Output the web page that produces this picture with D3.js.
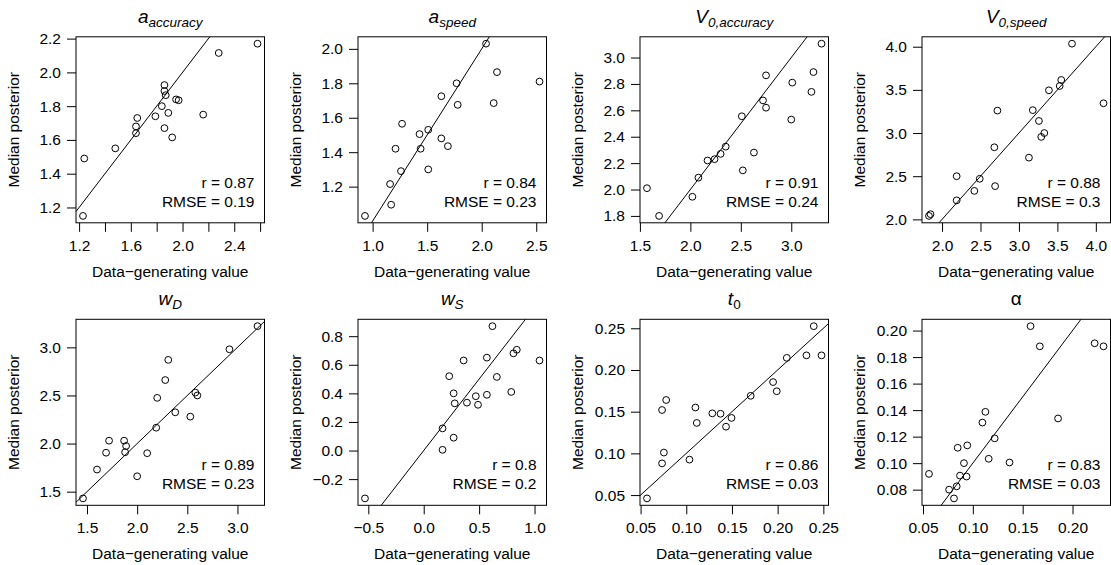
<!DOCTYPE html>
<html>
<head>
<meta charset="utf-8">
<script src="https://cdn.jsdelivr.net/npm/d3@7"></script>
<style>
  body { margin: 0; background: #fff; }
  text { font-family: "Liberation Sans", Arial, Helvetica, sans-serif; }
</style>
</head>
<body>
<div id="chart"></div>
<script>
// parameter recovery: data-generating value vs median posterior, one panel per parameter

var aAccTrue = [1.23, 1.24, 1.48, 1.64, 1.64, 1.65, 1.79, 1.84, 1.86, 1.86, 1.86, 1.87, 1.89, 1.92, 1.95, 1.97, 2.16, 2.28, 2.58];
var aAccPost = [1.15, 1.49, 1.55, 1.64, 1.68, 1.73, 1.74, 1.80, 1.67, 1.925, 1.89, 1.865, 1.76, 1.615, 1.84, 1.835, 1.75, 2.115, 2.17];

var aSpdTrue = [0.93, 1.16, 1.17, 1.21, 1.26, 1.27, 1.43, 1.44, 1.51, 1.51, 1.63, 1.63, 1.69, 1.77, 1.78, 2.04, 2.11, 2.14, 2.53];
var aSpdPost = [1.03, 1.215, 1.095, 1.42, 1.29, 1.565, 1.505, 1.42, 1.53, 1.30, 1.725, 1.48, 1.435, 1.80, 1.675, 2.03, 1.685, 1.865, 1.81];

var v0AccTrue = [1.57, 1.69, 2.02, 2.08, 2.17, 2.24, 2.30, 2.35, 2.51, 2.52, 2.63, 2.72, 2.75, 2.75, 3.00, 3.01, 3.20, 3.22, 3.30];
var v0AccPost = [2.01, 1.80, 1.945, 2.09, 2.22, 2.23, 2.27, 2.325, 2.555, 2.145, 2.28, 2.675, 2.865, 2.62, 2.53, 2.81, 2.74, 2.89, 3.105];

var v0SpdTrue = [1.83, 1.85, 2.19, 2.19, 2.42, 2.49, 2.68, 2.69, 2.72, 3.13, 3.18, 3.26, 3.29, 3.33, 3.39, 3.53, 3.55, 3.69, 4.10];
var v0SpdPost = [2.04, 2.06, 2.50, 2.22, 2.33, 2.47, 2.835, 2.385, 3.26, 2.715, 3.265, 3.14, 2.955, 3.00, 3.495, 3.545, 3.615, 4.035, 3.345];

var wDTrue = [1.46, 1.60, 1.69, 1.72, 1.87, 1.89, 1.88, 2.00, 2.10, 2.19, 2.20, 2.28, 2.31, 2.38, 2.53, 2.58, 2.60, 2.92, 3.20];
var wDPost = [1.43, 1.73, 1.905, 2.03, 2.03, 1.975, 1.91, 1.66, 1.90, 2.165, 2.475, 2.66, 2.87, 2.325, 2.28, 2.53, 2.50, 2.98, 3.22];

var wSTrue = [-0.53, 0.17, 0.17, 0.23, 0.27, 0.27, 0.28, 0.36, 0.39, 0.47, 0.49, 0.57, 0.57, 0.62, 0.66, 0.79, 0.81, 0.84, 1.045];
var wSPost = [-0.335, 0.005, 0.155, 0.52, 0.09, 0.40, 0.33, 0.63, 0.335, 0.38, 0.32, 0.39, 0.65, 0.87, 0.515, 0.41, 0.68, 0.705, 0.63];

var t0True = [0.057, 0.0735, 0.0755, 0.0735, 0.078, 0.1035, 0.110, 0.1115, 0.1285, 0.1375, 0.1435, 0.1495, 0.1705, 0.195, 0.199, 0.210, 0.2315, 0.2395, 0.248];
var t0Post = [0.046, 0.088, 0.101, 0.152, 0.164, 0.0925, 0.155, 0.1365, 0.148, 0.1475, 0.132, 0.1425, 0.169, 0.1855, 0.1745, 0.2145, 0.2175, 0.2525, 0.2175];

var alphaTrue = [0.056, 0.0762, 0.0811, 0.0838, 0.0848, 0.0871, 0.0911, 0.0937, 0.0944, 0.1096, 0.1126, 0.1159, 0.1219, 0.1368, 0.1579, 0.1672, 0.1855, 0.2222, 0.2311];
var alphaPost = [0.0919, 0.080, 0.0734, 0.0825, 0.1116, 0.0906, 0.100, 0.0899, 0.1134, 0.1306, 0.1387, 0.1033, 0.1187, 0.1005, 0.2033, 0.1881, 0.1337, 0.1904, 0.1881];

// titles: main symbol + subscript
var titleMain = ["a", "a", "V", "V", "w", "w", "t", "\u03b1"];
var titleSub = ["accuracy", "speed", "0,accuracy", "0,speed", "D", "S", "0", ""];
var mainItalic = [true, true, true, true, true, true, true, false];
var subItalic = [true, true, true, true, true, true, false, true];

var rValues = ["0.87", "0.84", "0.91", "0.88", "0.89", "0.8", "0.86", "0.83"];
var rmseValues = ["0.19", "0.23", "0.24", "0.3", "0.23", "0.2", "0.03", "0.03"];

// tick values and labels ("" = tick without label)
var xTicks = [
  [1.2, 1.4, 1.6, 1.8, 2.0, 2.2, 2.4, 2.6],
  [1.0, 1.5, 2.0, 2.5],
  [1.5, 2.0, 2.5, 3.0],
  [2.0, 2.5, 3.0, 3.5, 4.0],
  [1.5, 2.0, 2.5, 3.0],
  [-0.5, 0.0, 0.5, 1.0],
  [0.05, 0.10, 0.15, 0.20, 0.25],
  [0.05, 0.10, 0.15, 0.20]
];
var xLabels = [
  ["1.2", "", "1.6", "", "2.0", "", "2.4", ""],
  ["1.0", "1.5", "2.0", "2.5"],
  ["1.5", "2.0", "2.5", "3.0"],
  ["2.0", "2.5", "3.0", "3.5", "4.0"],
  ["1.5", "2.0", "2.5", "3.0"],
  ["\u22120.5", "0.0", "0.5", "1.0"],
  ["0.05", "0.10", "0.15", "0.20", "0.25"],
  ["0.05", "0.10", "0.15", "0.20"]
];
var yTicks = [
  [1.2, 1.4, 1.6, 1.8, 2.0, 2.2],
  [1.2, 1.4, 1.6, 1.8, 2.0],
  [1.8, 2.0, 2.2, 2.4, 2.6, 2.8, 3.0],
  [2.0, 2.5, 3.0, 3.5, 4.0],
  [1.5, 2.0, 2.5, 3.0],
  [-0.2, 0.0, 0.2, 0.4, 0.6, 0.8],
  [0.05, 0.10, 0.15, 0.20, 0.25],
  [0.08, 0.10, 0.12, 0.14, 0.16, 0.18, 0.20]
];
var yLabels = [
  ["1.2", "1.4", "1.6", "1.8", "2.0", "2.2"],
  ["1.2", "1.4", "1.6", "1.8", "2.0"],
  ["1.8", "2.0", "2.2", "2.4", "2.6", "2.8", "3.0"],
  ["2.0", "2.5", "3.0", "3.5", "4.0"],
  ["1.5", "2.0", "2.5", "3.0"],
  ["\u22120.2", "0.0", "0.2", "0.4", "0.6", "0.8"],
  ["0.05", "0.10", "0.15", "0.20", "0.25"],
  ["0.08", "0.10", "0.12", "0.14", "0.16", "0.18", "0.20"]
];

var trueVals = [aAccTrue, aSpdTrue, v0AccTrue, v0SpdTrue, wDTrue, wSTrue, t0True, alphaTrue];
var postVals = [aAccPost, aSpdPost, v0AccPost, v0SpdPost, wDPost, wSPost, t0Post, alphaPost];

var svgWidth = 1111;
var svgHeight = 565;

var colStep = 282;
var rowStep = 282.5;
var box = { left: 76, top: 36.8, width: 188.5, height: 186 };
var fontSize = 15.5;

var svg = d3.select("#chart")
  .append("svg")
  .attr("width", svgWidth)
  .attr("height", svgHeight);

svg.append("rect")
  .attr("width", svgWidth)
  .attr("height", svgHeight)
  .attr("fill", "#fff");

// R style range: data range stretched 4% each side
function extend(v) {
  var lo = d3.min(v), hi = d3.max(v);
  var pad = (hi - lo) * 0.04;
  return [lo - pad, hi + pad];
}

trueVals.forEach(function (xs, i) {
  var ys = postVals[i];
  var col = i % 4;
  var row = Math.floor(i / 4);

  var panel = svg.append("g")
    .attr("transform", `translate(${col * colStep}, ${row * rowStep})`);

  var xDom = extend(xs);
  var yDom = extend(ys);

  var xScale = d3.scaleLinear()
    .domain(xDom)
    .range([box.left, box.left + box.width]);

  var yScale = d3.scaleLinear()
    .domain(yDom)
    .range([box.top + box.height, box.top]);

  // axes
  var bottomAxis = d3.axisBottom(xScale)
    .tickValues(xTicks[i])
    .tickFormat(function (d, j) { return xLabels[i][j]; })
    .tickSize(9)
    .tickPadding(8);

  var leftAxis = d3.axisLeft(yScale)
    .tickValues(yTicks[i])
    .tickFormat(function (d, j) { return yLabels[i][j]; })
    .tickSize(9)
    .tickPadding(6);

  var xg = panel.append("g")
    .attr("transform", `translate(0, ${box.top + box.height})`)
    .call(bottomAxis);

  var yg = panel.append("g")
    .attr("transform", `translate(${box.left}, 0)`)
    .call(leftAxis);

  [xg, yg].forEach(function (g) {
    g.select(".domain").remove();
    g.attr("font-family", null).attr("font-size", null);
    g.selectAll("text").attr("fill", "#000").style("font-size", fontSize + "px");
    g.selectAll("line").attr("stroke", "#000");
  });

  // identity line, clipped to the box
  var lo = Math.max(xDom[0], yDom[0]);
  var hi = Math.min(xDom[1], yDom[1]);
  panel.append("line")
    .attr("x1", xScale(lo))
    .attr("y1", yScale(lo))
    .attr("x2", xScale(hi))
    .attr("y2", yScale(hi))
    .attr("stroke", "#000")
    .attr("stroke-width", 1);

  // points
  panel.append("g")
    .selectAll("circle")
    .data(xs)
    .enter()
    .append("circle")
    .attr("cx", function (d) { return xScale(d); })
    .attr("cy", function (d, j) { return yScale(ys[j]); })
    .attr("r", 3.4)
    .attr("fill", "none")
    .attr("stroke", "#000")
    .attr("stroke-width", 1);

  // box
  panel.append("rect")
    .attr("x", box.left)
    .attr("y", box.top)
    .attr("width", box.width)
    .attr("height", box.height)
    .attr("fill", "none")
    .attr("stroke", "#000")
    .attr("stroke-width", 1);

  // r and RMSE
  panel.append("text")
    .attr("x", box.left + box.width - 10)
    .attr("y", box.top + box.height - 35)
    .attr("text-anchor", "end")
    .style("font-size", fontSize + "px")
    .text("r = " + rValues[i]);

  panel.append("text")
    .attr("x", box.left + box.width - 10)
    .attr("y", box.top + box.height - 16)
    .attr("text-anchor", "end")
    .style("font-size", fontSize + "px")
    .text("RMSE = " + rmseValues[i]);

  // axis titles
  panel.append("text")
    .attr("x", box.left + box.width / 2)
    .attr("y", box.top + box.height + 54)
    .attr("text-anchor", "middle")
    .style("font-size", fontSize + "px")
    .text("Data\u2212generating value");

  panel.append("text")
    .attr("transform", `translate(${box.left - 57}, ${box.top + box.height / 2}) rotate(-90)`)
    .attr("text-anchor", "middle")
    .style("font-size", fontSize + "px")
    .text("Median posterior");

  // panel title
  var title = panel.append("text")
    .attr("x", box.left + box.width / 2)
    .attr("y", box.top - 14)
    .attr("text-anchor", "middle");

  title.append("tspan")
    .style("font-size", "19px")
    .style("font-style", mainItalic[i] ? "italic" : "normal")
    .text(titleMain[i]);

  if (titleSub[i] !== "") {
    title.append("tspan")
      .attr("dy", 4)
      .style("font-size", "13.5px")
      .style("font-style", subItalic[i] ? "italic" : "normal")
      .text(titleSub[i]);
  }
});
</script>
</body>
</html>
